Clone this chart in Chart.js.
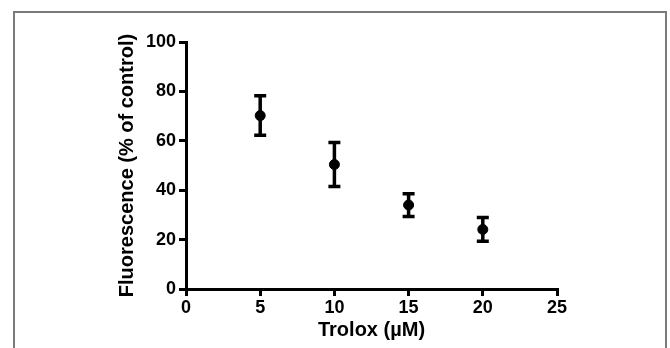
<!DOCTYPE html>
<html>
<head>
<meta charset="utf-8">
<script src="https://cdn.jsdelivr.net/npm/chart.js@4"></script>
<style>
  html, body { margin: 0; padding: 0; background: #fff; }
  #wrap { position: relative; width: 670px; height: 348px; overflow: hidden; }
  #frame { position: absolute; left: 13px; top: 11px; width: 650px; height: 400px; border: 2px solid #7b7b7b; pointer-events: none; }
  canvas { position: absolute; left: 0; top: 0; }
</style>
</head>
<body>
<div id="wrap">
  <canvas id="c" width="670" height="348"></canvas>
  <div id="frame"></div>
</div>
<script>
const concentrations = [5, 10, 15, 20];
const fluorescence = [70.2, 50.4, 34.0, 24.1];
const sem = [8.0, 8.9, 4.6, 4.8];
const xTicks = [0, 5, 10, 15, 20, 25];
const yTicks = [0, 20, 40, 60, 80, 100];
const xTitle = 'Trolox (\u00b5M)';
const yTitle = 'Fluorescence (% of control)';

const errorBars = {
  id: 'errorBars',
  afterDatasetsDraw(chart) {
    const { ctx, scales: { x, y } } = chart;
    ctx.save();
    ctx.strokeStyle = '#000';
    ctx.lineWidth = 3.5;
    ctx.lineCap = 'butt';
    concentrations.forEach((c, i) => {
      const px = x.getPixelForValue(c);
      const top = y.getPixelForValue(fluorescence[i] + sem[i]);
      const bot = y.getPixelForValue(fluorescence[i] - sem[i]);
      ctx.beginPath();
      ctx.moveTo(px, top); ctx.lineTo(px, bot);
      ctx.moveTo(px - 6, top); ctx.lineTo(px + 6, top);
      ctx.moveTo(px - 6, bot); ctx.lineTo(px + 6, bot);
      ctx.stroke();
    });
    ctx.restore();
  }
};

const font = { family: '"Liberation Sans", Arial, sans-serif', weight: 'bold' };

new Chart(document.getElementById('c'), {
  type: 'scatter',
  data: {
    datasets: [{
      data: concentrations.map((c, i) => ({ x: c, y: fluorescence[i] })),
      backgroundColor: '#000',
      borderColor: '#000',
      pointRadius: 5,
      pointHoverRadius: 5
    }]
  },
  options: {
    responsive: false,
    animation: false,
    events: [],
    layout: { padding: { left: 106, right: 113, top: 42, bottom: 0 } },
    plugins: { legend: { display: false }, tooltip: { enabled: false } },
    scales: {
      x: {
        type: 'linear', min: 0, max: 25,
        afterBuildTicks(s) { s.ticks = xTicks.map(v => ({ value: v })); },
        afterFit(s) { s.height = 59; },
        grid: { drawOnChartArea: false, drawTicks: true, tickLength: 7, color: '#000', lineWidth: 3 },
        border: { display: true, color: '#000', width: 3 },
        ticks: { color: '#000', font: { ...font, size: 18 }, padding: 1 },
        title: { display: true, text: xTitle, color: '#000', font: { ...font, size: 20 }, padding: { top: 2, bottom: 6 } }
      },
      y: {
        type: 'linear', min: 0, max: 100,
        afterBuildTicks(s) { s.ticks = yTicks.map(v => ({ value: v })); },
        afterFit(s) { s.width = 80; },
        grid: { drawOnChartArea: false, drawTicks: true, tickLength: 7, color: '#000', lineWidth: 3 },
        border: { display: true, color: '#000', width: 3 },
        ticks: { color: '#000', font: { ...font, size: 18 }, padding: 3 },
        title: { display: true, text: yTitle, color: '#000', font: { ...font, size: 20 }, padding: { top: 9, bottom: 0 } }
      }
    }
  },
  plugins: [errorBars]
});
</script>
</body>
</html>
